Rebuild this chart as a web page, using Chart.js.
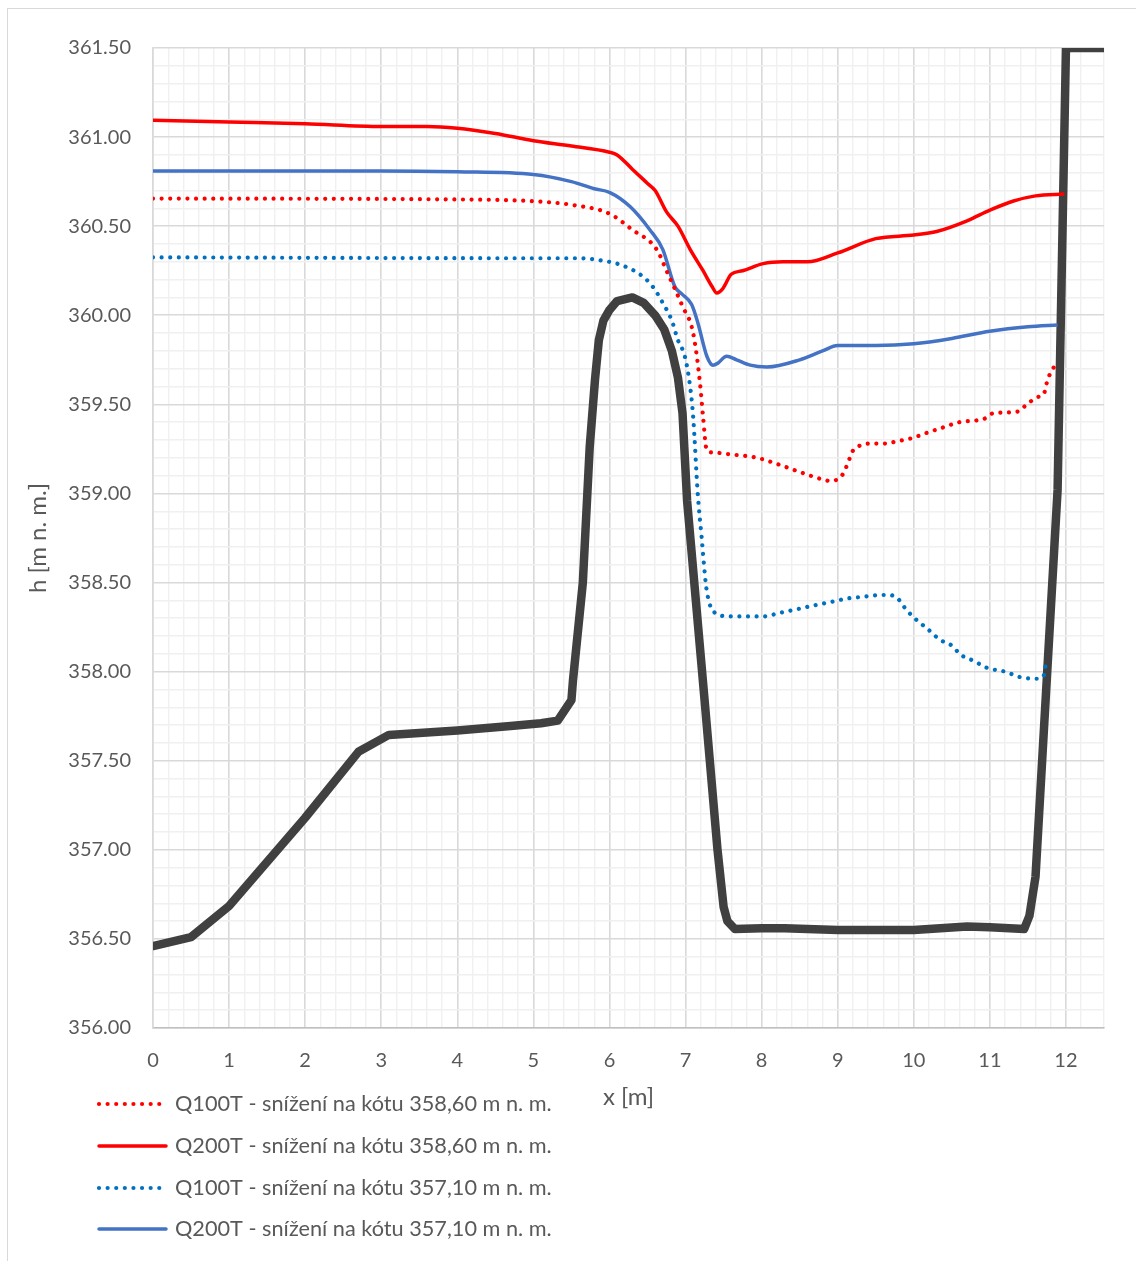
<!DOCTYPE html>
<html>
<head>
<meta charset="utf-8">
<script src="https://cdn.jsdelivr.net/npm/chart.js@4.4.1/dist/chart.umd.min.js"></script>
<style>
  html, body { margin: 0; padding: 0; background: #fff; }
  #wrap { position: relative; width: 1136px; height: 1261px; overflow: hidden; }
  #frame { position: absolute; left: 7px; top: 8px; width: 1200px; height: 1300px; border: 1.5px solid #d9d9d9; pointer-events: none; }
</style>
</head>
<body>
<div id="wrap">
  <canvas id="chart" width="1136" height="1261"></canvas>
  <div id="frame"></div>
</div>
<script>
// terrain profile (cross section)
const terrainX = [0, 0.5, 1.0, 2.0, 2.7, 3.1, 4.0, 4.7, 5.1, 5.32, 5.5, 5.52, 5.65, 5.74, 5.81, 5.86, 5.92, 6.0, 6.1, 6.3,
  6.45, 6.6, 6.72, 6.82, 6.9, 6.96, 7.02, 7.25, 7.42, 7.5, 7.55, 7.65, 8.0, 8.3, 9.0, 9.5, 10.0, 10.7, 11.0, 11.45,
  11.52, 11.6, 11.89, 12.0, 12.5];
const terrainY = [356.46, 356.51, 356.685, 357.18, 357.55, 357.645, 357.67, 357.695, 357.71, 357.725, 357.84, 357.95, 358.5, 359.26, 359.64, 359.86, 359.97, 360.03, 360.08, 360.10,
  360.07, 360.0, 359.92, 359.8, 359.65, 359.45, 358.96, 357.84, 357.0, 356.68, 356.6, 356.555, 356.56, 356.56, 356.55, 356.55, 356.55, 356.57, 356.565, 356.555,
  356.63, 356.85, 359.02, 361.5, 361.5];

// Q100T - lowered to 358,60
const q100aX = [0, 4, 5, 5.5, 6.0, 6.3, 6.62, 6.75, 6.96, 7.1, 7.19, 7.23, 7.28, 7.36, 7.58, 7.94, 8.24, 8.57, 8.79, 8.9, 9.0,
  9.07, 9.16, 9.2, 9.3, 9.42, 9.64, 9.75, 9.97, 10.17, 10.38, 10.6, 10.83, 10.93, 11.04, 11.37, 11.46, 11.62, 11.71, 11.76, 11.83, 11.88];
const q100aY = [360.655, 360.65, 360.64, 360.62, 360.57, 360.48, 360.37, 360.25, 360.05, 359.9, 359.62, 359.43, 359.24, 359.23, 359.22, 359.2, 359.16, 359.11, 359.08, 359.07, 359.08,
  359.11, 359.2, 359.24, 359.27, 359.28, 359.28, 359.29, 359.31, 359.34, 359.37, 359.4, 359.41, 359.42, 359.45, 359.46, 359.49, 359.54, 359.56, 359.64, 359.70, 359.74];

// Q200T - lowered to 358,60
const q200aX = [0, 1, 2, 3, 3.6, 4.0, 4.5, 5.0, 5.5, 6.0, 6.1, 6.3, 6.5, 6.6, 6.75, 6.9, 7.06, 7.23, 7.35, 7.41, 7.49, 7.6, 7.75,
  8.02, 8.28, 8.6, 9.0, 9.5, 10.0, 10.3, 10.7, 11.0, 11.3, 11.6, 11.98];
const q200aY = [361.095, 361.085, 361.075, 361.06, 361.06, 361.05, 361.02, 360.98, 360.95, 360.915, 360.9, 360.82, 360.74, 360.7, 360.58, 360.5, 360.37, 360.25, 360.16, 360.125, 360.15, 360.23, 360.25,
  360.29, 360.30, 360.3, 360.35, 360.43, 360.45, 360.47, 360.53, 360.59, 360.64, 360.67, 360.68];

// Q100T - lowered to 357,10
const q100bX = [0, 5, 5.6, 6.0, 6.1, 6.4, 6.57, 6.7, 6.82, 6.9, 6.99, 7.06, 7.1, 7.16, 7.21, 7.27, 7.31, 7.36, 7.58, 7.8, 8.02,
  8.24, 8.46, 8.67, 8.9, 9.12, 9.33, 9.58, 9.68, 9.79, 9.86, 9.94, 10.01, 10.18, 10.34, 10.52, 10.6, 10.79, 10.97, 11.2, 11.39, 11.62, 11.71, 11.73];
const q100bY = [360.325, 360.32, 360.32, 360.30, 360.29, 360.23, 360.16, 360.07, 359.97, 359.86, 359.77, 359.60, 359.43, 359.0, 358.76, 358.48, 358.39, 358.34, 358.31, 358.31, 358.31,
  358.33, 358.35, 358.37, 358.39, 358.41, 358.42, 358.43, 358.43, 358.41, 358.37, 358.33, 358.30, 358.24, 358.18, 358.14, 358.10, 358.06, 358.02, 358.0, 357.97, 357.96, 357.98, 358.03];

// Q200T - lowered to 357,10
const q200bX = [0, 3, 4, 5, 5.5, 5.8, 6.0, 6.27, 6.53, 6.7, 6.86, 6.95, 7.08, 7.16, 7.28, 7.36, 7.42, 7.54, 7.67, 7.85, 8.07,
  8.5, 8.8, 9.0, 9.5, 10.0, 10.5, 11.0, 11.5, 11.89];
const q200bY = [360.81, 360.81, 360.805, 360.79, 360.75, 360.71, 360.69, 360.61, 360.48, 360.37, 360.16, 360.12, 360.06, 359.96, 359.77, 359.72, 359.73, 359.77, 359.75, 359.72, 359.71,
  359.75, 359.8, 359.83, 359.83, 359.84, 359.87, 359.91, 359.935, 359.945];

const seriesLabels = [
  'Q100T - snížení na kótu 358,60 m n. m.',
  'Q200T - snížení na kótu 358,60 m n. m.',
  'Q100T - snížení na kótu 357,10 m n. m.',
  'Q200T - snížení na kótu 357,10 m n. m.'
];

const FONT = 'Lato, "Open Sans", sans-serif';
const TEXT = '#595959';
const toPts = (xs, ys) => xs.map((x, i) => ({ x: x, y: ys[i] }));
const isMajorX = v => Math.abs(v - Math.round(v)) < 1e-6;
const isMajorY = v => Math.abs(v * 2 - Math.round(v * 2)) < 1e-6;
const DOTS = [0.01, 8.6];

// draws the legend as a vertical list under the plot
const bottomLegend = {
  id: 'bottomLegend',
  afterDraw(chart) {
    const ctx = chart.ctx;
    const rows = [1104, 1146, 1188, 1229];
    chart.data.datasets.forEach((ds, i) => {
      if (ds.legendRow === undefined) return;
      const y = rows[ds.legendRow];
      ctx.save();
      ctx.strokeStyle = ds.borderColor;
      ctx.lineWidth = ds.borderWidth;
      ctx.lineCap = 'round';
      ctx.setLineDash(ds.borderDash || []);
      ctx.beginPath();
      ctx.moveTo(99, y);
      ctx.lineTo(166, y);
      ctx.stroke();
      ctx.restore();
      ctx.save();
      ctx.fillStyle = TEXT;
      ctx.font = '21.7px ' + FONT;
      ctx.textBaseline = 'middle';
      ctx.fillText(ds.label, 175, y);
      ctx.restore();
    });
  }
};

new Chart(document.getElementById('chart'), {
  type: 'line',
  data: {
    datasets: [
      { label: seriesLabels[0], legendRow: 0, data: toPts(q100aX, q100aY), borderColor: '#ff0000', borderWidth: 4.2,
        borderDash: DOTS, borderCapStyle: 'round', cubicInterpolationMode: 'monotone' },
      { label: seriesLabels[1], legendRow: 1, data: toPts(q200aX, q200aY), borderColor: '#ff0000', borderWidth: 3.5,
        cubicInterpolationMode: 'monotone' },
      { label: seriesLabels[2], legendRow: 2, data: toPts(q100bX, q100bY), borderColor: '#0070c0', borderWidth: 4.2,
        borderDash: DOTS, borderCapStyle: 'round', cubicInterpolationMode: 'monotone' },
      { label: seriesLabels[3], legendRow: 3, data: toPts(q200bX, q200bY), borderColor: '#4472c4', borderWidth: 3.5,
        cubicInterpolationMode: 'monotone' },
      { label: 'terén', data: toPts(terrainX, terrainY), borderColor: '#404040', borderWidth: 8.5,
        borderJoinStyle: 'round', borderCapStyle: 'round', tension: 0, clip: 0 }
    ]
  },
  options: {
    responsive: false,
    animation: false,
    events: [],
    elements: { point: { radius: 0 } },
    layout: { padding: { left: 20, top: 48, right: 32, bottom: 149 } },
    plugins: { legend: { display: false }, tooltip: { enabled: false } },
    scales: {
      x: {
        type: 'linear', min: 0, max: 12.5,
        afterFit: s => { s.height = 84; },
        ticks: {
          stepSize: 0.2, autoSkip: false, maxRotation: 0, padding: 21,
          color: TEXT, font: { family: FONT, size: 20 },
          callback: v => isMajorX(v) ? String(Math.round(v)) : ''
        },
        grid: {
          drawTicks: false,
          color: c => (c.tick && isMajorX(c.tick.value)) ? '#d9d9d9' : '#f0f0f0',
          lineWidth: c => (c.tick && isMajorX(c.tick.value)) ? 1.6 : 1.4
        },
        border: { color: '#bfbfbf', width: 1.6 },
        title: { display: true, text: 'x [m]', color: TEXT, font: { family: FONT, size: 24 }, padding: { top: 0, bottom: 0 } }
      },
      y: {
        min: 356, max: 361.5,
        afterFit: s => { s.width = 133; },
        ticks: {
          stepSize: 0.1, autoSkip: false, padding: 22,
          color: TEXT, font: { family: FONT, size: 20 },
          callback: v => isMajorY(v) ? v.toFixed(2) : ''
        },
        grid: {
          drawTicks: false,
          color: c => (c.tick && isMajorY(c.tick.value)) ? '#d9d9d9' : '#f0f0f0',
          lineWidth: c => (c.tick && isMajorY(c.tick.value)) ? 1.6 : 1.4
        },
        border: { color: '#d9d9d9', width: 1.6 },
        title: { display: true, text: 'h [m n. m.]', color: TEXT, font: { family: FONT, size: 24 }, padding: { top: 4, bottom: 0 } }
      }
    }
  },
  plugins: [bottomLegend]
});
</script>
</body>
</html>
